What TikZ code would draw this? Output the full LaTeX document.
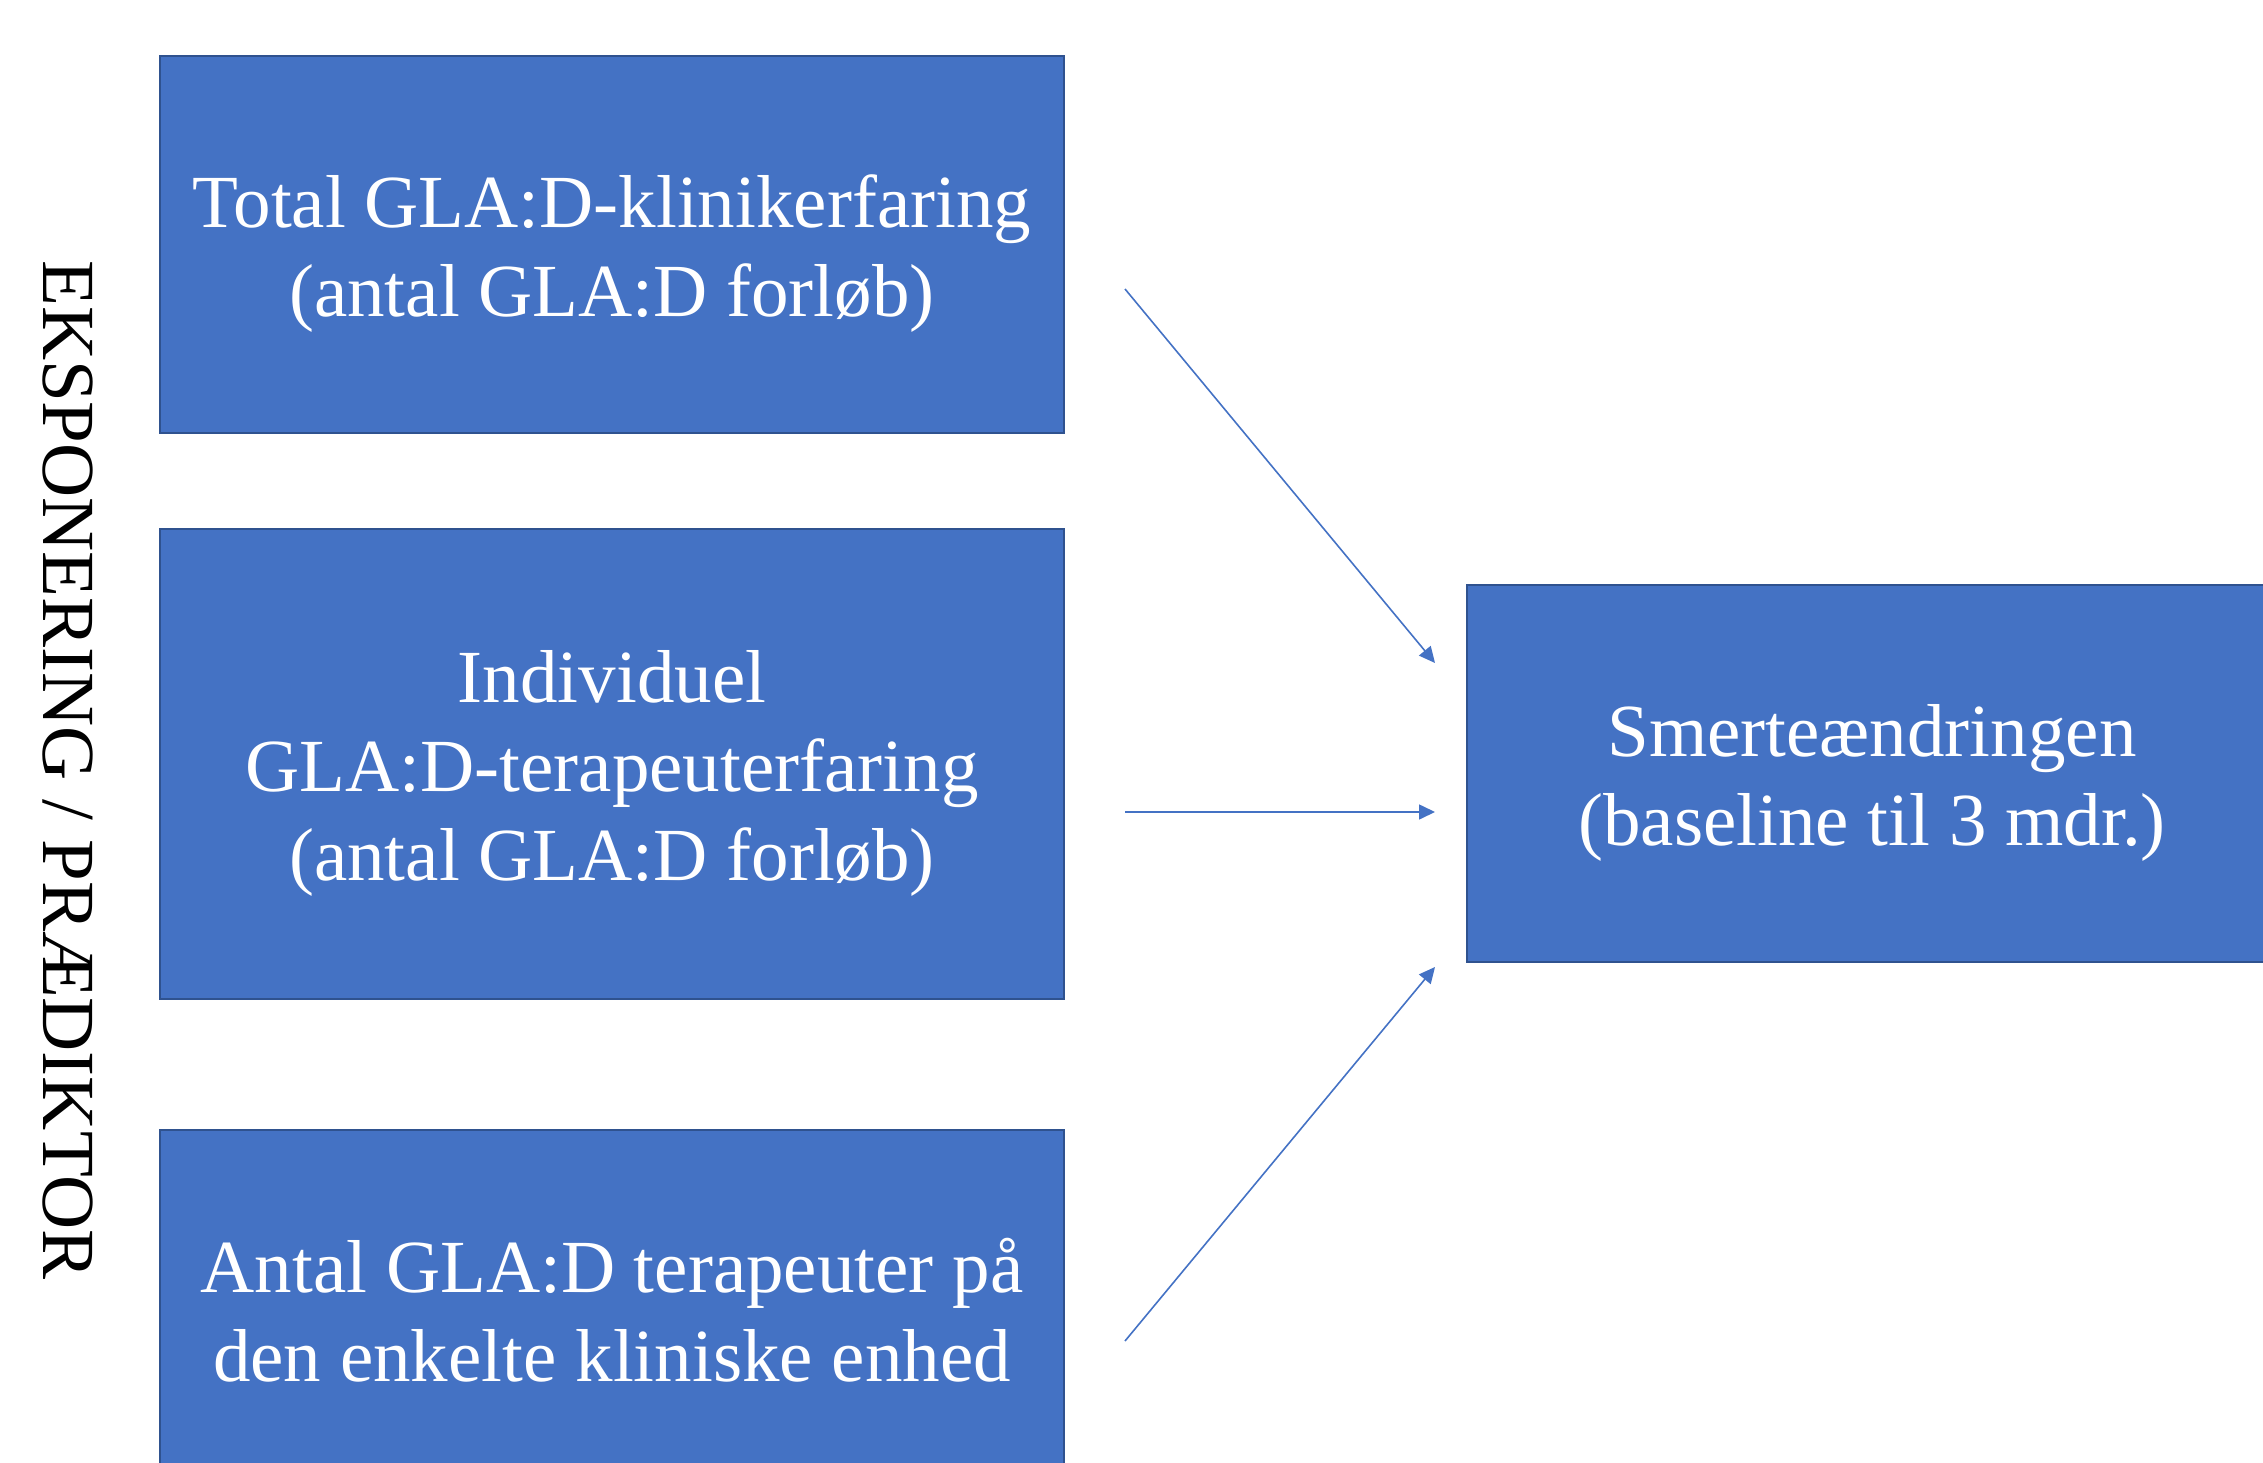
\documentclass[tikz,border=0pt]{standalone}
\usepackage{fontspec}
\setmainfont{Liberation Serif}
\usepackage{xcolor}
\definecolor{boxblueMW}{RGB}{68,114,196}
\definecolor{edgeblueMW}{RGB}{47,82,143}
\usepackage{tikz}
\usetikzlibrary{arrows.meta, positioning, calc}
\newcommand{\topgap}{\rule{0pt}{71pt}}
\tikzset{varbox/.style={draw=edgeblueMW, line width=2pt, fill=boxblueMW, text=white,
  align=center, inner sep=0pt, font=\fontsize{75}{89}\selectfont},
  effect/.style={-{Triangle[length=16pt,width=15pt]}, line width=1.6pt, boxblueMW}}

\begin{document}
\begin{tikzpicture}[x=1pt, y=-1pt]
        \useasboundingbox (0,0) rectangle (2263,1463);
        % === Exposure boxes (left column) ===
        \node[varbox, minimum width=904pt, minimum height=377pt] (total) at (612,244.5)
          {\topgap Total GLA:D-klinikerfaring\\(antal GLA:D forløb)};
        \node[varbox, minimum width=904pt, minimum height=470pt] (indiv) at (612,764)
          {\topgap Individuel\\GLA:D-terapeuterfaring\\(antal GLA:D forløb)};
        \node[varbox, minimum width=904pt, minimum height=344pt] (antal) at (612,1302)
          {\topgap Antal GLA:D terapeuter på\\den enkelte kliniske enhed};

        % === Outcome box (right) ===
        \node[varbox, minimum width=810pt, minimum height=377pt] (smerte) at (1872,773.5)
          {\topgap Smerteændringen\\(baseline til 3 mdr.)};

        % === Side label ===
        \node[rotate=-90, font=\fontsize{75}{89}\selectfont, inner sep=0pt] (label) at (68,770)
          {EKSPONERING / PRÆDIKTOR};

        % === Arrows ===
        \coordinate (s1) at (1125,289);
        \coordinate (s2) at (1125,812);
        \coordinate (s3) at (1125,1341);
        \coordinate (e1) at (1435,663);
        \coordinate (e2) at (1435,812);
        \coordinate (e3) at (1435,967);
        \foreach \s/\e in {s1/e1, s2/e2, s3/e3} {\draw[effect] (\s) -- (\e);}
        \end{tikzpicture}
\end{document}
